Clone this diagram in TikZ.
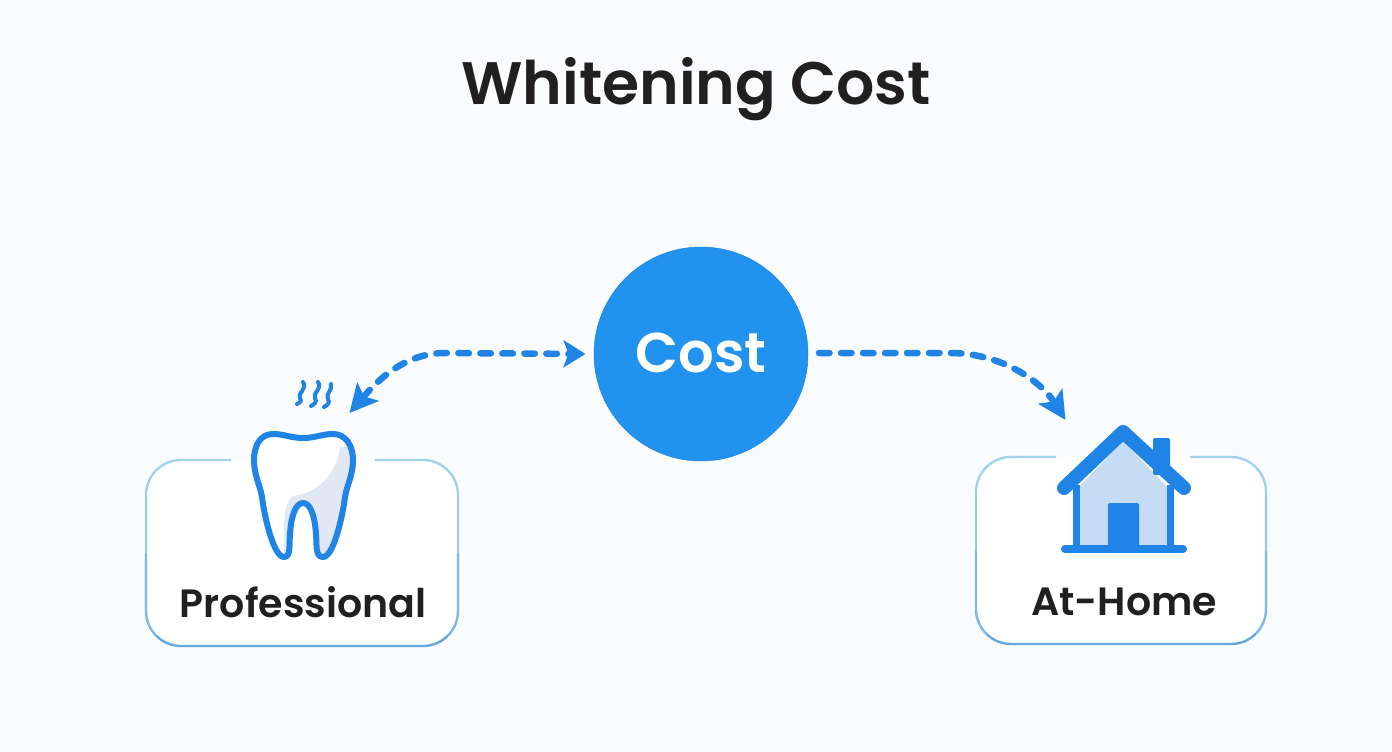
\documentclass[tikz,border=0pt]{standalone}
\usepackage{fontspec}
\setmainfont[BoldFont={Poppins SemiBold}]{Poppins}
\usepackage{tikz}
\usetikzlibrary{arrows.meta}
\definecolor{paper}{HTML}{FAFBFD}
\definecolor{costblue}{HTML}{2192EE}
\definecolor{iconblue}{HTML}{1F84E6}
\definecolor{houselight}{HTML}{C6DCF4}
\definecolor{toothshade}{HTML}{E2E8F3}
\definecolor{boxtop}{HTML}{A3D2F0}
\definecolor{boxside}{HTML}{93C8EC}
\definecolor{boxlow}{HTML}{7DB8E6}
\definecolor{boxbottom}{HTML}{64A8DE}
\definecolor{ink}{HTML}{211F20}
% left, right, top, bottom, gap start, gap end
\newcommand{\cardedge}[6]{
  \draw[boxtop] (#5,#3) -- ({#1+35},#3) arc (270:180:35);
  \draw[boxtop] (#6,#3) -- ({#2-35},#3) arc (270:360:35);
  \draw[boxside] (#1,{#3+35}) -- (#1,{(#3+#4)/2});
  \draw[boxside] (#2,{#3+35}) -- (#2,{(#3+#4)/2});
  \draw[boxlow] (#1,{(#3+#4)/2}) -- (#1,{#4-35}) arc (180:135:35);
  \draw[boxlow] (#2,{(#3+#4)/2}) -- (#2,{#4-35}) arc (0:45:35);
  \draw[boxbottom] ({#1+35-24.75},{#4-35+24.75}) arc (135:90:35) -- ({#2-35},#4) arc (90:45:35);
}

\begin{document}
\begin{tikzpicture}[x=1pt,y=-1pt, line join=round,
        every node/.append style={inner sep=0pt,outer sep=0pt}]
      \tikzstyle{word} = [font=\fontsize{39.5}{39.5}\selectfont\bfseries,color=ink,anchor=base]
      \tikzstyle{card} = [rectangle,rounded corners=35pt,fill=white,anchor=north west]
      \tikzstyle{flow} = [dash pattern=on 10.5pt off 11.5pt,line width=6.5pt,color=iconblue,
        line cap=round]
      \tikzstyle{steam} = [line width=4pt,color=iconblue,line cap=round]
      \fill[paper] (0,0) rectangle (1392,752);
      \node (title) [word,font=\fontsize{60}{60}\selectfont\bfseries] at (696,104) {Whitening Cost};

      % cards
      \node (professional) [card,minimum width=312pt,minimum height=186pt] at (146,460) {};
      \node (athome) [card,minimum width=290pt,minimum height=187pt] at (976,457) {};
      \begin{scope}[line width=2.4pt]
        \cardedge{146}{458}{460}{646}{231}{375}
        \cardedge{976}{1266}{457}{644}{1056}{1190}
      \end{scope}
      \node (professionaltext) [word] at (303,617) {Professional};
      \node (athometext) [word] at (1124,615) {At-Home};

      % tooth
      \def\toothoutline{(303,438) .. controls (315,438) and (322,434) .. (333,434)
        .. controls (346,434) and (353,446) .. (353,460)
        .. controls (353,475) and (347,485) .. (345,497)
        .. controls (342,520) and (333,557) .. (323,557)
        .. controls (315,557) and (317,545) .. (316,535)
        .. controls (315,515) and (310,503) .. (303,503)
        .. controls (296,503) and (291,515) .. (290,535)
        .. controls (289,545) and (291,557) .. (284,557)
        .. controls (274,557) and (265,520) .. (262,497)
        .. controls (260,485) and (254,475) .. (254,460)
        .. controls (254,446) and (260,434) .. (273,434)
        .. controls (284,434) and (291,438) .. (303,438) -- cycle}
      \fill[white] \toothoutline;
      \begin{scope}
        \clip \toothoutline;
        \fill[toothshade] (340,447) .. controls (338,470) and (320,492) .. (297,495)
          .. controls (287,497) and (284,510) .. (284,530) -- (284,565) -- (360,565) -- (360,447) -- cycle;
      \end{scope}
      \draw[iconblue,line width=6pt] \toothoutline;
      \draw[steam] (303,382) .. controls (308,389) and (297,393) .. (300,398) .. controls (303,402) and (298,403) .. (297,404);
      \draw[steam] (318,382) .. controls (323,389) and (312,393) .. (315,398) .. controls (318,402) and (313,405) .. (311,406);
      \draw[steam] (331,384) .. controls (333,390) and (325,394) .. (328,399) .. controls (331,403) and (326,406) .. (324,407);

      % house
      \fill[houselight] (1076,490) -- (1123,441) -- (1170,490) -- (1170,546) -- (1076,546) -- cycle;
      \fill[iconblue,rounded corners=2pt] (1153,475) -- (1153,438) -- (1170,438) -- (1170,475) -- cycle;
      \fill[iconblue,rounded corners=2pt] (1108,548) -- (1108,503) -- (1139,503) -- (1139,548) -- cycle;
      \draw[iconblue,line width=7pt] (1076.5,485) -- (1076.5,548);
      \draw[iconblue,line width=7pt] (1170,485) -- (1170,548);
      \draw[iconblue,line width=14pt,line cap=round] (1064,488) -- (1123,432) -- (1184,488);
      \draw[iconblue,line width=8pt,line cap=round] (1065,549) -- (1183,549);

      % cost and the two links
      \node (cost) [circle,fill=costblue,draw=iconblue,line width=.5pt,minimum size=214pt] at (701,354) {};
      \node (costtext) [word,color=white,font=\fontsize{56}{56}\selectfont\bfseries] at (701,372) {Cost};
      \coordinate (leftend) at (349.5,413);
      \coordinate (lefttip) at (585.5,354);
      \coordinate (rightstart) at (819,353);
      \coordinate (righttip) at (1065.5,420);
      \draw[flow,{Stealth[length=28pt,width=28pt,inset=6pt]}-{Stealth[length=22pt,width=27pt,inset=5pt]}]
        (leftend) .. controls (378,380) and (405,353) .. (445,353) -- (lefttip);
      \draw[flow,-{Stealth[length=28pt,width=28pt,inset=6pt]}]
        (rightstart) -- (950,353) .. controls (1000,353) and (1040,380) .. (righttip);
    \end{tikzpicture}
\end{document}
